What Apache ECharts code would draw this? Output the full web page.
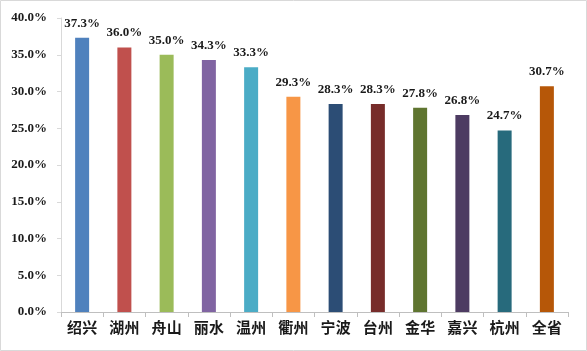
<!DOCTYPE html>
<html>
<head>
<meta charset="utf-8">
<script src="https://cdn.jsdelivr.net/npm/echarts@6/dist/echarts.min.js"></script>
<style>
  html, body { margin: 0; padding: 0; background: #fff; }
  #chart { width: 587px; height: 351px; }
</style>
</head>
<body>
<div id="chart"></div>
<script>
const cities = ['绍兴', '湖州', '舟山', '丽水', '温州', '衢州', '宁波', '台州', '金华', '嘉兴', '杭州', '全省'];
const rates = [37.3, 36.0, 35.0, 34.3, 33.3, 29.3, 28.3, 28.3, 27.8, 26.8, 24.7, 30.7];
const barColors = ['#4F81BD', '#C0504D', '#9BBB59', '#8064A2', '#4BACC6', '#F79646',
                   '#2C4D75', '#772C2A', '#5F7530', '#4D3B62', '#276A7C', '#B65708'];

const font = "'Liberation Serif', 'Noto Sans CJK SC', serif";
const chart = echarts.init(document.getElementById('chart'));

chart.setOption({
    animation: false,
    graphic: [{
        type: 'rect',
        shape: { x: 0.5, y: 0.5, width: 586, height: 350 },
        style: { fill: 'none', stroke: '#d9d9d9', lineWidth: 1 },
        silent: true
    }],
    grid: { left: 61, right: 19, top: 18, bottom: 39 },
    xAxis: {
        type: 'category',
        data: cities,
        axisLine: { lineStyle: { color: '#bfbfbf', width: 1 } },
        axisTick: { show: true, length: 5, lineStyle: { color: '#bfbfbf' } },
        axisLabel: { color: '#1a1a1a', fontSize: 15, fontWeight: 'bold', fontFamily: font, margin: 10 }
    },
    yAxis: {
        type: 'value',
        min: 0,
        max: 40,
        interval: 5,
        axisLine: { show: true, lineStyle: { color: '#d9d9d9' } },
        axisTick: { show: true, length: 4, lineStyle: { color: '#d9d9d9' } },
        splitLine: { show: false },
        axisLabel: {
            color: '#1a1a1a', fontSize: 13, fontWeight: 'bold', fontFamily: font, margin: 14,
            formatter: v => v.toFixed(1) + '%'
        }
    },
    series: [{
        type: 'bar',
        barWidth: 14,
        data: rates.map((v, i) => ({ value: v, itemStyle: { color: barColors[i] } })),
        label: {
            show: true,
            position: 'top',
            distance: 8,
            color: '#1a1a1a',
            fontSize: 13,
            fontWeight: 'bold',
            fontFamily: font,
            formatter: p => p.value.toFixed(1) + '%'
        }
    }]
});
</script>
</body>
</html>
